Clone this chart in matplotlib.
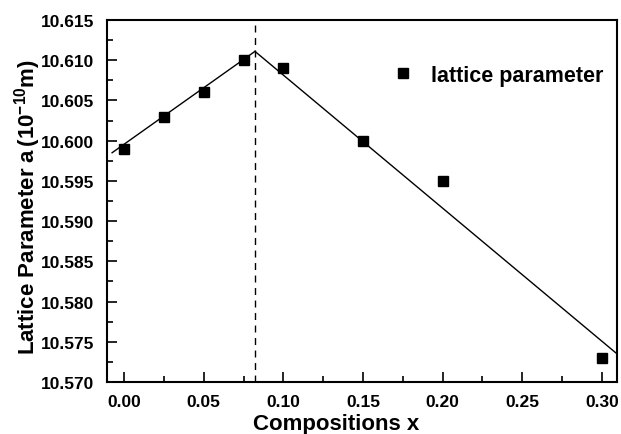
import matplotlib
matplotlib.use("Agg")
import matplotlib.pyplot as plt
from matplotlib.ticker import MultipleLocator, FormatStrFormatter

plt.rcParams['font.family'] = ['Liberation Sans', 'DejaVu Sans']
plt.rcParams['font.weight'] = 'bold'
plt.rcParams['mathtext.fontset'] = 'custom'
plt.rcParams['mathtext.rm'] = 'Liberation Sans:bold'
plt.rcParams['mathtext.it'] = 'Liberation Sans:bold'
plt.rcParams['mathtext.bf'] = 'Liberation Sans:bold'

# measured lattice parameter vs composition
comp_x = [0.0, 0.025, 0.05, 0.075, 0.10, 0.15, 0.20, 0.30]
lattice_a = [10.599, 10.603, 10.606, 10.610, 10.609, 10.600, 10.595, 10.573]

# two linear fits meeting at the break point
fit_left_x = [-0.0075, 0.0822]
fit_left_y = [10.5985, 10.6111]
fit_right_x = [0.0822, 0.3095]
fit_right_y = [10.6111, 10.5735]
break_x = 0.0822

fig = plt.figure(figsize=(6.21, 4.35), dpi=100)
ax = fig.add_axes([0.1723, 0.1195, 0.8213, 0.8322])

ax.plot(fit_left_x, fit_left_y, color='black', lw=1.0)
ax.plot(fit_right_x, fit_right_y, color='black', lw=1.0)
ax.axvline(break_x, color='black', lw=1.0, ls=(0, (5, 4)))
ax.plot(comp_x, lattice_a, 's', color='black', markersize=6.5, label='lattice parameter')

ax.set_xlim(-0.0107, 0.3095)
ax.set_ylim(10.570, 10.615)
ax.xaxis.set_major_locator(MultipleLocator(0.05))
ax.xaxis.set_minor_locator(MultipleLocator(0.025))
ax.yaxis.set_major_locator(MultipleLocator(0.005))
ax.yaxis.set_minor_locator(MultipleLocator(0.0025))
ax.xaxis.set_major_formatter(FormatStrFormatter('%.2f'))
ax.yaxis.set_major_formatter(FormatStrFormatter('%.3f'))
ax.tick_params(which='both', direction='in', top=False, right=False, width=1.2, labelsize=12.5)
ax.tick_params(which='major', length=7)
ax.tick_params(which='minor', length=4)
ax.tick_params(axis='x', which='major', pad=8.5)
ax.tick_params(axis='y', which='major', pad=9)
for lab in ax.get_xticklabels() + ax.get_yticklabels():
    lab.set_fontweight('bold')
for s in ax.spines.values():
    s.set_linewidth(1.5)

ax.set_xlabel('Compositions x', fontsize=16, fontweight='bold', labelpad=3)
ax.xaxis.label.set_x(0.449)
ax.set_ylabel(r'Lattice Parameter a$\,$(10$^{\mathregular{-10}}$m)', fontsize=16, fontweight='bold', labelpad=-1)
ax.yaxis.label.set_y(0.485)

leg = ax.legend(loc='upper right', bbox_to_anchor=(1.012, 0.93), frameon=False,
                prop={'size': 15.5, 'weight': 'bold'}, handlelength=1.0,
                handletextpad=0.8, markerscale=1.0)

fig.savefig('out.png', dpi=100)
